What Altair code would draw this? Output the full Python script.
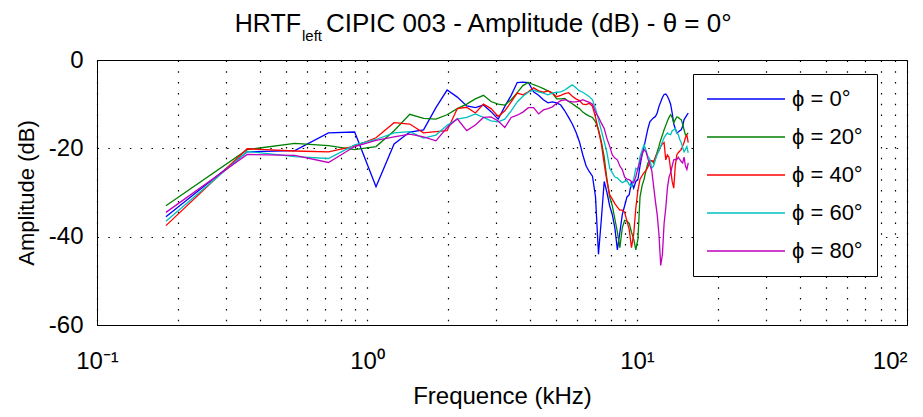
import altair as alt
import pandas as pd

FONT = "Liberation Sans, Arial, Helvetica, sans-serif"

freq_khz = [0.18, 0.36, 0.54, 0.72, 0.90, 1.08, 1.26, 1.44, 1.62, 1.80,
            1.98, 2.16, 2.34, 2.52, 2.70, 2.88, 3.06, 3.24, 3.42, 3.60,
            3.78, 3.96, 4.14, 4.32, 4.50, 4.68, 4.86, 5.04, 5.22, 5.40,
            5.58, 5.76, 5.94, 6.12, 6.30, 6.48, 6.66, 6.84, 7.02, 7.20,
            7.38, 7.56, 7.74, 7.92, 8.10, 8.28, 8.46, 8.64, 8.82, 9.00,
            9.18, 9.36, 9.54, 9.72, 9.90, 10.08, 10.26, 10.44, 10.62, 10.80,
            10.98, 11.16, 11.34, 11.52, 11.70, 11.88, 12.06, 12.24, 12.42, 12.60,
            12.78, 12.96, 13.14, 13.32, 13.50, 13.68, 13.86, 14.04, 14.22, 14.40,
            14.58, 14.76, 14.94, 15.12, 15.30, 15.48]

amp_phi0 = [-35.5, -20.8, -20.5, -16.5, -16.3, -28.7, -19.0, -16.3, -15.8, -10.8,
            -6.8, -8.4, -10.4, -10.8, -10.2, -11.7, -13.4, -10.5, -8.0, -5.1,
            -5.0, -5.1, -7.2, -8.0, -9.0, -9.7, -9.5, -9.7, -10.2, -11.5,
            -13.0, -14.5, -16.3, -18.5, -21.5, -24.0, -25.3, -26.3, -31.0, -44.0,
            -36.0, -27.5, -30.0, -33.0, -35.0, -38.0, -43.0, -39.0, -35.0, -33.0,
            -31.0, -30.5, -27.5, -29.0, -27.5, -27.0, -24.0, -21.5, -19.6, -17.5,
            -15.5, -14.0, -13.5, -13.1, -12.8, -12.0, -10.5, -9.5, -8.5, -7.8,
            -7.7, -8.2, -9.0, -10.0, -12.0, -14.5, -15.5, -16.5, -16.3, -16.0,
            -15.8, -15.0, -13.5, -13.0, -12.5, -12.0]

amp_phi20 = [-33.0, -20.3, -18.9, -19.4, -20.3, -19.6, -16.0, -12.3, -13.2, -13.4,
             -12.4, -11.0, -10.0, -8.8, -8.0, -9.4, -10.0, -10.2, -9.0, -7.4,
             -5.8, -5.1, -5.6, -6.0, -6.5, -7.0, -7.5, -8.8, -8.8, -8.7,
             -9.4, -9.9, -10.5, -11.0, -11.8, -12.3, -12.7, -13.0, -14.0, -15.8,
             -18.5, -22.0, -27.0, -31.0, -33.0, -36.0, -39.0, -42.5, -38.0, -36.3,
             -36.5, -37.0, -39.0, -40.5, -43.0, -40.5, -31.0, -28.5, -27.0, -25.0,
             -23.3, -22.8, -22.8, -23.3, -22.0, -20.8, -19.5, -18.1, -17.0, -15.8,
             -14.8, -13.8, -13.0, -12.4, -13.0, -14.2, -13.5, -12.9, -13.0, -13.3,
             -13.5, -14.5, -15.8, -17.0, -16.8, -16.5]

amp_phi40 = [-37.5, -20.1, -20.6, -20.8, -19.5, -17.6, -14.2, -14.5, -16.5, -16.2,
             -16.0, -11.0, -10.7, -12.0, -10.0, -11.0, -12.8, -11.5, -9.5, -7.5,
             -7.9, -7.2, -6.3, -7.0, -7.3, -7.0, -7.5, -8.3, -8.0, -7.6,
             -7.4, -8.2, -8.8, -9.2, -10.0, -10.1, -9.8, -10.5, -13.0, -16.0,
             -19.0, -23.5, -27.5, -30.5, -31.5, -32.5, -33.3, -34.0, -34.0, -34.5,
             -36.5, -38.4, -42.5, -39.5, -33.5, -29.5, -27.0, -26.2, -25.5, -25.0,
             -24.2, -23.0, -22.8, -23.0, -22.0, -21.2, -20.5, -19.6, -19.0, -18.7,
             -22.6, -21.5, -22.0, -24.8, -27.5, -29.0, -24.0, -21.5, -21.0, -20.6,
             -20.3, -19.5, -18.7, -17.5, -17.0, -18.7]

amp_phi60 = [-36.5, -20.7, -21.9, -22.3, -19.2, -18.0, -16.5, -16.2, -17.7, -17.0,
             -14.8, -13.4, -13.0, -12.2, -13.0, -13.8, -14.0, -13.4, -11.5, -9.5,
             -8.2, -7.3, -6.8, -7.2, -7.5, -7.9, -7.5, -7.3, -7.2, -6.8,
             -6.2, -5.6, -6.3, -7.0, -7.3, -7.8, -8.3, -9.0, -11.0, -13.5,
             -16.0, -18.5, -21.0, -24.5, -25.5, -26.5, -26.7, -27.3, -27.8, -27.5,
             -27.3, -28.2, -28.7, -27.0, -24.5, -24.8, -21.9, -20.5, -19.2, -20.5,
             -21.9, -22.5, -24.5, -24.0, -22.6, -21.4, -20.5, -19.6, -18.5, -17.6,
             -17.0, -16.5, -16.8, -16.9, -16.0, -15.8, -15.5, -16.5, -16.9, -18.0,
             -18.7, -19.8, -20.8, -20.2, -19.6, -21.0]

amp_phi80 = [-34.5, -21.4, -21.6, -23.2, -19.6, -18.2, -17.4, -16.8, -17.4, -18.3,
             -15.3, -13.3, -16.0, -14.7, -13.0, -12.9, -13.8, -15.3, -13.0, -12.5,
             -11.8, -10.8, -10.8, -12.2, -11.3, -11.0, -10.6, -9.8, -9.2, -9.0,
             -9.3, -9.5, -9.5, -9.3, -9.0, -9.3, -9.6, -10.0, -11.8, -12.9,
             -14.3, -15.5, -17.8, -19.5, -21.5, -22.2, -22.6, -24.0, -24.8, -26.5,
             -27.0, -27.1, -27.5, -27.8, -26.4, -24.5, -23.0, -21.3, -20.3, -20.8,
             -22.4, -23.8, -25.0, -28.5, -32.0, -35.0, -39.5, -46.5, -44.0, -37.0,
             -33.5, -29.0, -26.5, -25.5, -24.0, -22.6, -22.5, -22.6, -22.0, -22.5,
             -23.0, -23.3, -22.0, -24.0, -24.8, -23.3]

series_labels = ["ϕ = 0°", "ϕ = 20°", "ϕ = 40°", "ϕ = 60°", "ϕ = 80°"]
series_colors = ["#0000ff", "#008000", "#ff0000", "#00bfbf", "#bf00bf"]
series_values = [amp_phi0, amp_phi20, amp_phi40, amp_phi60, amp_phi80]

x_grid_values = [0.1, 0.2, 0.3, 0.4, 0.5, 0.6, 0.7, 0.8, 0.9,
                 1, 2, 3, 4, 5, 6, 7, 8, 9,
                 10, 20, 30, 40, 50, 60, 70, 80, 90, 100]
y_tick_values = [-60, -40, -20, 0]

rows = []
for lab, vals in zip(series_labels, series_values):
    for f, a in zip(freq_khz, vals):
        rows.append({"freq": f, "amp": a, "phi": lab})
df = pd.DataFrame(rows)

label_expr = ("datum.value == 0.1 ? '10⁻¹' : datum.value == 1 ? '10⁰' : "
              "datum.value == 10 ? '10¹' : datum.value == 100 ? '10²' : ''")

lines = alt.Chart(df).mark_line(strokeWidth=1.3).encode(
    x=alt.X("freq:Q",
            scale=alt.Scale(type="log", domain=[0.1, 100]),
            axis=alt.Axis(values=x_grid_values, labelExpr=label_expr,
                          title="Frequence (kHz)", grid=True,
                          gridDash=[1.5, 9.3], gridColor="black", gridWidth=1.2,
                          ticks=False, labelFlush=False, labelOverlap=False,
                          labelAlign={"condition": {"test": "datum.value >= 99",
                                                    "value": "right"},
                                      "value": "center"},
                          labelPadding=24, titlePadding=11,
                          labelFontSize=24, titleFontSize=24)),
    y=alt.Y("amp:Q",
            scale=alt.Scale(domain=[-60, 0]),
            axis=alt.Axis(values=y_tick_values, title="Amplitude (dB)",
                          labelExpr="datum.value + ''",
                          grid=True, gridDash=[1.5, 9.3], gridColor="black",
                          gridWidth=1.2, ticks=False, labelPadding=14,
                          titlePadding=10, labelFontSize=24, titleFontSize=22)),
    color=alt.Color("phi:N",
                    scale=alt.Scale(domain=series_labels, range=series_colors),
                    legend=alt.Legend(title=None, orient="none",
                                      legendX=596, legendY=14,
                                      fillColor="white", strokeColor="black",
                                      padding=14, rowPadding=16,
                                      symbolType="M-4,0H4", symbolSize=380,
                                      symbolStrokeWidth=1.5, symbolOffset=28,
                                      labelOffset=35, labelFontSize=22,
                                      labelFont=FONT, labelLimit=0)),
)

blank = pd.DataFrame({"t": [0]})
title_main = alt.Chart(blank).mark_text(
    text="HRTF", align="right", baseline="alphabetic", fontSize=25, font=FONT,
    color="black").encode(x=alt.value(204), y=alt.value(-28))
title_sub = alt.Chart(blank).mark_text(
    text="left", align="left", baseline="alphabetic", fontSize=15, font=FONT,
    color="black").encode(x=alt.value(205), y=alt.value(-19))
title_rest = alt.Chart(blank).mark_text(
    text="CIPIC 003 - Amplitude (dB) - θ = 0°", align="left",
    baseline="alphabetic", fontSize=26, font=FONT,
    color="black").encode(x=alt.value(229), y=alt.value(-28))

chart = alt.layer(lines, title_main, title_sub, title_rest).properties(
    width=810, height=265,
    padding={"left": 89, "top": 52, "right": 8, "bottom": 84},
    autosize=alt.AutoSizeParams(type="none"),
    background="white",
).configure_view(
    stroke="black", strokeWidth=1
).configure_axis(
    domainColor="black", labelColor="black", titleColor="black",
    labelFont=FONT, titleFont=FONT, titleFontWeight="normal",
)

chart.save("out.html", embed_options={"renderer": "svg", "actions": False})
